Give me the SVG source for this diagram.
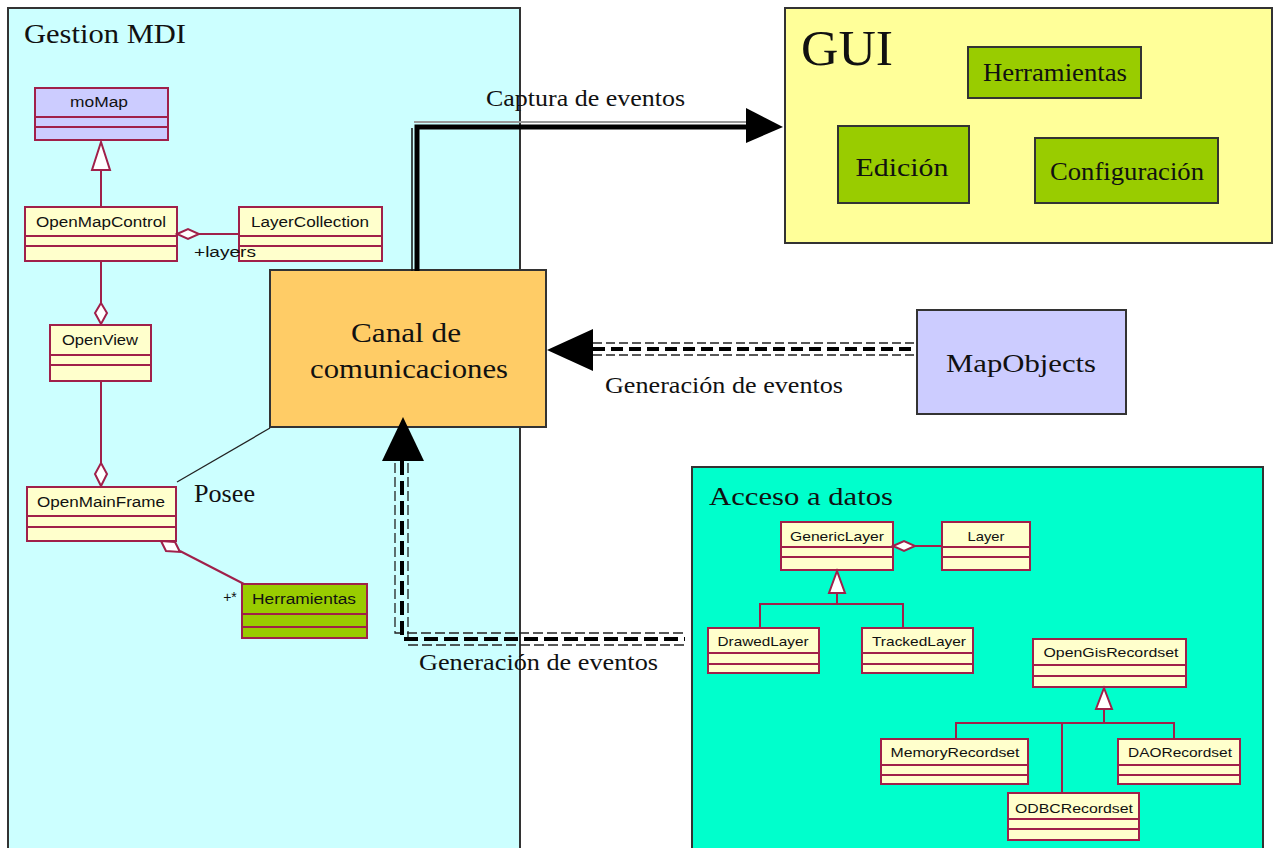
<svg xmlns="http://www.w3.org/2000/svg" width="1274" height="848" viewBox="0 0 1274 848">
<style>
.panel{stroke:#333;stroke-width:2}
.uml{fill:#FFFFCC;stroke:#A0204A;stroke-width:2}
.umlL{stroke:#A0204A;stroke-width:2;fill:none}
.ut{font-family:"Liberation Sans",Arial,sans-serif;font-size:14px;fill:#111;text-anchor:middle}
.ut2{font-family:"Liberation Sans",Arial,sans-serif;font-size:13px;fill:#111;text-anchor:middle}
.sr{font-family:"Liberation Serif","Times New Roman",serif;fill:#111}
.box{stroke:#333;stroke-width:2}
.rel{stroke:#A0204A;stroke-width:2;fill:none}
.hol{fill:#fff;stroke:#A0204A;stroke-width:2}
</style>
<rect width="1274" height="848" fill="#fff"/>

<g id="gestion-mdi">
<rect class="panel" x="8" y="8" width="512" height="850" fill="#CCFFFF"/>
<text class="sr" x="24" y="43" font-size="28" textLength="162" lengthAdjust="spacingAndGlyphs">Gestion MDI</text>
</g>

<g id="gui">
<rect class="panel" x="785" y="8" width="487" height="235" fill="#FFFF99"/>
<text class="sr" x="801" y="65" font-size="50" textLength="92" lengthAdjust="spacingAndGlyphs">GUI</text>
</g>

<g id="acceso-datos">
<rect class="panel" x="692" y="467" width="571" height="390" fill="#00FFCC"/>
<text class="sr" x="709" y="505" font-size="25" textLength="184" lengthAdjust="spacingAndGlyphs">Acceso a datos</text>
</g>

<g id="canal">
<rect class="box" x="270" y="270" width="276" height="157" fill="#FFCC66"/>
<text class="sr" x="406" y="342" font-size="27" text-anchor="middle" textLength="110" lengthAdjust="spacingAndGlyphs">Canal de</text>
<text class="sr" x="409" y="378" font-size="27" text-anchor="middle" textLength="198" lengthAdjust="spacingAndGlyphs">comunicaciones</text>
</g>

<g id="mapobjects">
<rect class="box" x="917" y="310" width="209" height="104" fill="#CCCCFF"/>
<text class="sr" x="1021" y="372" font-size="26" text-anchor="middle" textLength="150" lengthAdjust="spacingAndGlyphs">MapObjects</text>
</g>

<g id="gui-herramientas">
<rect class="box" x="968" y="47" width="173" height="51" fill="#99CC00"/>
<text class="sr" x="1055" y="81" font-size="25" text-anchor="middle" textLength="144" lengthAdjust="spacingAndGlyphs">Herramientas</text>
</g>
<g id="gui-edicion">
<rect class="box" x="838" y="126" width="131" height="77" fill="#99CC00"/>
<text class="sr" x="902" y="176" font-size="25" text-anchor="middle" textLength="93" lengthAdjust="spacingAndGlyphs">Edición</text>
</g>
<g id="gui-configuracion">
<rect class="box" x="1035" y="138" width="183" height="65" fill="#99CC00"/>
<text class="sr" x="1127" y="180" font-size="25" text-anchor="middle" textLength="154" lengthAdjust="spacingAndGlyphs">Configuración</text>
</g>

<g id="moMap">
<rect class="uml" x="35" y="88" width="133" height="52" style="fill:#CCCCFF"/>
<path class="umlL" d="M35,117H168M35,127H168"/>
<text class="ut" x="99" y="107" textLength="58" lengthAdjust="spacingAndGlyphs">moMap</text>
</g>
<g id="OpenMapControl">
<rect class="uml" x="25" y="207" width="152" height="54"/>
<path class="umlL" d="M25,236H177M25,246H177"/>
<text class="ut" x="101" y="227" textLength="130" lengthAdjust="spacingAndGlyphs">OpenMapControl</text>
</g>
<g id="LayerCollection">
<rect class="uml" x="239" y="207" width="143" height="54"/>
<path class="umlL" d="M239,236H382M239,246H382"/>
<text class="ut" x="310" y="227" textLength="118" lengthAdjust="spacingAndGlyphs">LayerCollection</text>
</g>
<g id="OpenView">
<rect class="uml" x="50" y="325" width="101" height="56"/>
<path class="umlL" d="M50,355H151M50,365H151"/>
<text class="ut" x="100" y="345" textLength="76" lengthAdjust="spacingAndGlyphs">OpenView</text>
</g>
<g id="OpenMainFrame">
<rect class="uml" x="27" y="487" width="149" height="54"/>
<path class="umlL" d="M27,516H176M27,527H176"/>
<text class="ut" x="101" y="507" textLength="128" lengthAdjust="spacingAndGlyphs">OpenMainFrame</text>
</g>
<g id="Herramientas-uml">
<rect class="uml" x="242" y="584" width="125" height="54" style="fill:#99CC00"/>
<path class="umlL" d="M242,614H367M242,627H367"/>
<text class="ut" x="304" y="604" textLength="104" lengthAdjust="spacingAndGlyphs">Herramientas</text>
</g>

<g id="GenericLayer">
<rect class="uml" x="781" y="522" width="112" height="48"/>
<path class="umlL" d="M781,547H893M781,557H893"/>
<text class="ut2" x="837" y="541" textLength="94" lengthAdjust="spacingAndGlyphs">GenericLayer</text>
</g>
<g id="Layer">
<rect class="uml" x="942" y="522" width="88" height="48"/>
<path class="umlL" d="M942,547H1030M942,557H1030"/>
<text class="ut2" x="986" y="541" textLength="37" lengthAdjust="spacingAndGlyphs">Layer</text>
</g>
<g id="DrawedLayer">
<rect class="uml" x="708" y="628" width="111" height="45"/>
<path class="umlL" d="M708,653H819M708,664H819"/>
<text class="ut2" x="763" y="646" textLength="91" lengthAdjust="spacingAndGlyphs">DrawedLayer</text>
</g>
<g id="TrackedLayer">
<rect class="uml" x="862" y="628" width="111" height="45"/>
<path class="umlL" d="M862,653H973M862,664H973"/>
<text class="ut2" x="919" y="646" textLength="94" lengthAdjust="spacingAndGlyphs">TrackedLayer</text>
</g>
<g id="OpenGisRecordset">
<rect class="uml" x="1033" y="639" width="153" height="48"/>
<path class="umlL" d="M1033,665H1186M1033,676H1186"/>
<text class="ut2" x="1111" y="657" textLength="135" lengthAdjust="spacingAndGlyphs">OpenGisRecordset</text>
</g>
<g id="MemoryRecordset">
<rect class="uml" x="881" y="739" width="147" height="45"/>
<path class="umlL" d="M881,765H1028M881,775H1028"/>
<text class="ut2" x="955" y="757" textLength="129" lengthAdjust="spacingAndGlyphs">MemoryRecordset</text>
</g>
<g id="DAORecordset">
<rect class="uml" x="1118" y="739" width="122" height="45"/>
<path class="umlL" d="M1118,765H1240M1118,775H1240"/>
<text class="ut2" x="1180" y="757" textLength="104" lengthAdjust="spacingAndGlyphs">DAORecordset</text>
</g>
<g id="ODBCRecordset">
<rect class="uml" x="1008" y="793" width="131" height="47"/>
<path class="umlL" d="M1008,819H1139M1008,829H1139"/>
<text class="ut2" x="1074" y="813" textLength="118" lengthAdjust="spacingAndGlyphs">ODBCRecordset</text>
</g>

<g id="connectors">
<!-- UML relations, Gestion MDI -->
<line class="rel" x1="101" y1="170" x2="101" y2="207"/>
<polygon class="hol" points="101,142 92,170 110,170"/>
<line class="rel" x1="199" y1="234" x2="239" y2="234"/>
<polygon class="hol" points="177,234 188,229 199,234 188,239"/>
<text class="ut" x="194" y="257" style="text-anchor:start" textLength="62" lengthAdjust="spacingAndGlyphs">+layers</text>
<line class="rel" x1="101" y1="261" x2="101" y2="303"/>
<polygon class="hol" points="101,303 107,313 101,324 95,313"/>
<line class="rel" x1="101" y1="381" x2="101" y2="463"/>
<polygon class="hol" points="101,463 107,474 101,486 95,474"/>
<line class="rel" x1="180" y1="551" x2="244" y2="584"/>
<polygon class="hol" points="161,541 166,551 180,552 175,542"/>
<text class="ut" x="230" y="602">+*</text>
<line x1="177" y1="482" x2="270" y2="428" stroke="#222" stroke-width="1.3"/>
<text class="sr" x="194" y="502" font-size="26" textLength="61" lengthAdjust="spacingAndGlyphs">Posee</text>

<!-- Captura de eventos -->
<polyline points="412,271 412,128" fill="none" stroke="#111" stroke-width="1.5"/>
<polyline points="414,122 746,122" fill="none" stroke="#999" stroke-width="2"/>
<polyline points="417,271 417,127 750,127" fill="none" stroke="#000" stroke-width="5"/>
<polygon points="746,108 783,127 746,143" fill="#000"/>
<text class="sr" x="486" y="106" font-size="24" textLength="199" lengthAdjust="spacingAndGlyphs">Captura de eventos</text>

<!-- Generación de eventos (MapObjects) -->
<line x1="593" y1="343" x2="917" y2="343" stroke="#222" stroke-width="1.3" stroke-dasharray="9,4"/>
<line x1="593" y1="355" x2="917" y2="355" stroke="#222" stroke-width="1.3" stroke-dasharray="9,4"/>
<line x1="593" y1="349" x2="917" y2="349" stroke="#000" stroke-width="4" stroke-dasharray="12,6"/>
<polygon points="547,350 593,329 593,371" fill="#000"/>
<text class="sr" x="605" y="393" font-size="24" textLength="238" lengthAdjust="spacingAndGlyphs">Generación de eventos</text>

<!-- Generación de eventos (Acceso a datos) -->
<polyline points="395,463 395,633 685,633" fill="none" stroke="#222" stroke-width="1.3" stroke-dasharray="10,4"/>
<polyline points="408,463 408,645 685,645" fill="none" stroke="#222" stroke-width="1.3" stroke-dasharray="10,4"/>
<polyline points="402,461 402,639 685,639" fill="none" stroke="#000" stroke-width="4" stroke-dasharray="14,6"/>
<polygon points="403,417 382,461 424,461" fill="#000"/>
<text class="sr" x="419" y="670" font-size="24" textLength="239" lengthAdjust="spacingAndGlyphs">Generación de eventos</text>

<!-- UML relations, Acceso a datos -->
<line class="rel" x1="915" y1="546" x2="942" y2="546"/>
<polygon class="hol" points="893,546 904,541 915,546 904,551"/>
<polygon class="hol" points="837,571 829,593 845,593"/>
<polyline class="rel" points="837,593 837,604"/>
<polyline class="rel" points="760,628 760,604 903,604 903,628"/>
<polygon class="hol" points="1104,688 1096,709 1112,709"/>
<polyline class="rel" points="1104,709 1104,723"/>
<polyline class="rel" points="956,739 956,723 1174,723 1174,739"/>
<line class="rel" x1="1062" y1="723" x2="1062" y2="793"/>
</g>
</svg>
